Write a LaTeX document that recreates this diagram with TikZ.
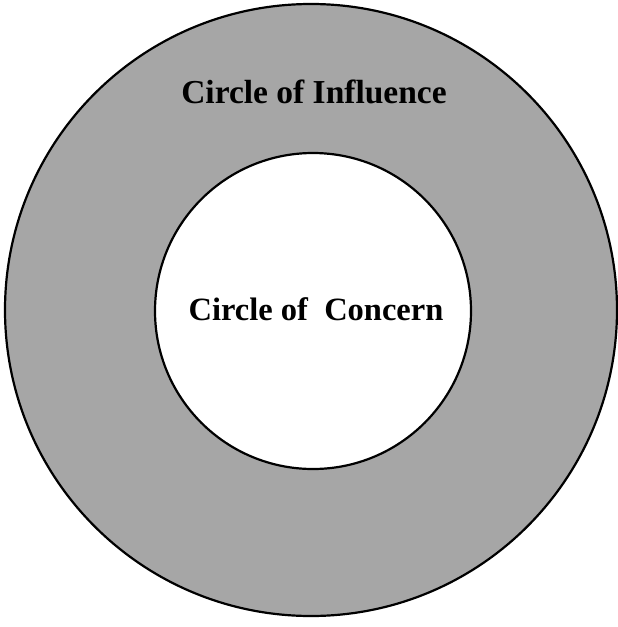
\documentclass[tikz,border=0pt]{standalone}
\usepackage{fontspec}
\setmainfont{Liberation Serif}
\usetikzlibrary{positioning}

\begin{document}
\begin{tikzpicture}[x=1pt,y=-1pt,
  ring/.style={circle,draw,line width=2.2pt,inner sep=0pt},
  label/.style={font=\bfseries\fontsize{32.5}{32.5}\selectfont,inner sep=0pt}]
\useasboundingbox (0,0) rectangle (618,627);
\node[ring,fill=black!35,minimum size=612pt] (influence) at (311,310) {};
\node[ring,fill=white,minimum size=316pt] (concern) at (313,311) {};
\node[label,font=\bfseries\fontsize{33.5}{33.5}\selectfont] (influencetext) at (314,92) {Circle of Influence};
\node[label] (concerntext) at (316,309) {Circle of\hspace{0.5em}Concern};
\end{tikzpicture}
\end{document}
